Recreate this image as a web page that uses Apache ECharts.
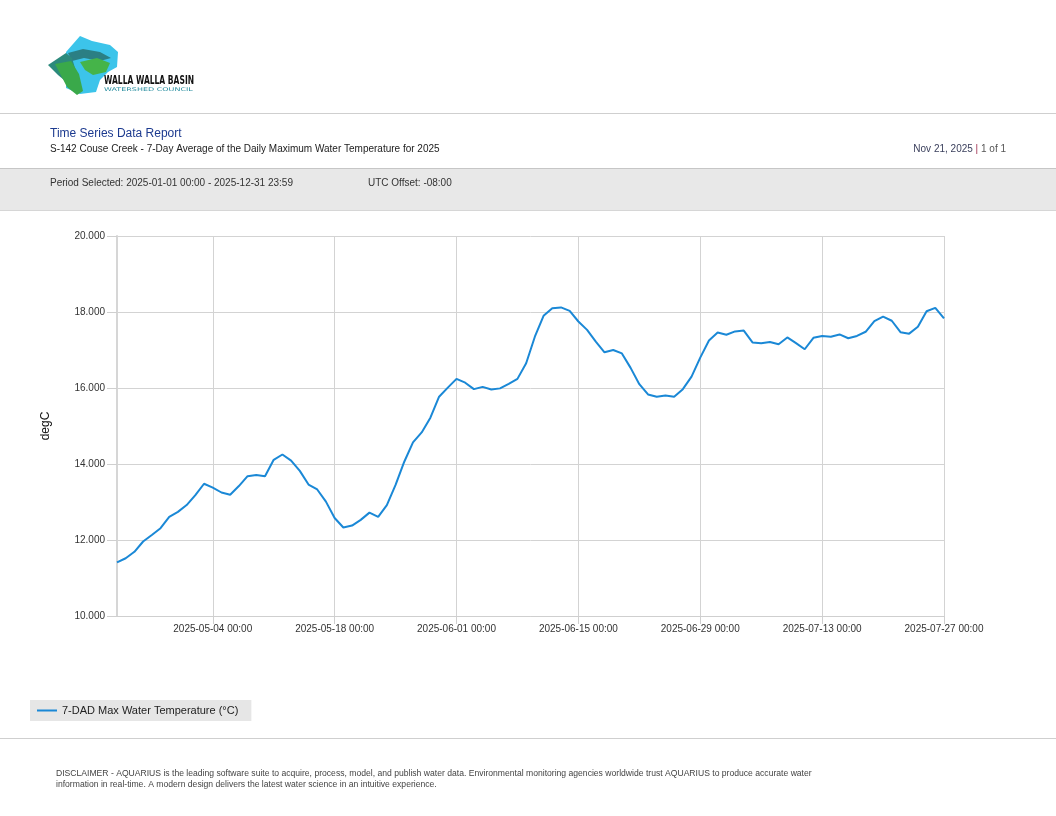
<!DOCTYPE html>
<html>
<head>
<meta charset="utf-8">
<script src="https://cdn.jsdelivr.net/npm/echarts@6/dist/echarts.min.js"></script>
<style>
html,body{margin:0;padding:0;background:#fff;}
#chart{width:1056px;height:816px;}
</style>
</head>
<body>
<div id="chart"></div>
<script>
// ---- Data ----
const startDate = '2025-04-23';
const tempValues = [
  11.41, 11.52, 11.69, 11.96, 12.13, 12.31, 12.61, 12.74, 12.92, 13.18,
  13.48, 13.38, 13.25, 13.19, 13.42, 13.68, 13.71, 13.68, 14.11, 14.25,
  14.09, 13.82, 13.46, 13.33, 13.01, 12.58, 12.33, 12.38, 12.53, 12.72,
  12.61, 12.92, 13.45, 14.06, 14.57, 14.83, 15.22, 15.77, 16.01, 16.24,
  16.14, 15.97, 16.03, 15.96, 15.99, 16.11, 16.24, 16.65, 17.35, 17.90,
  18.10, 18.12, 18.03, 17.75, 17.53, 17.22, 16.94, 17.00, 16.91, 16.53,
  16.10, 15.83, 15.77, 15.80, 15.77, 15.97, 16.30, 16.80, 17.25, 17.46,
  17.40, 17.49, 17.51, 17.20, 17.18, 17.21, 17.15, 17.33, 17.18, 17.02,
  17.32, 17.37, 17.35, 17.41, 17.31, 17.37, 17.48, 17.76, 17.88, 17.77,
  17.47, 17.43, 17.61, 18.02, 18.11, 17.83
];
const tickDates = ['2025-05-04','2025-05-18','2025-06-01','2025-06-15','2025-06-29','2025-07-13','2025-07-27'];
const yTicks = [10, 12, 14, 16, 18, 20];
const seriesName = '7-DAD Max Water Temperature (°C)';

// categories (dates)
const categories = [];
(function(){
  const d0 = new Date(startDate + 'T00:00:00Z');
  for (let i = 0; i < tempValues.length; i++) {
    const d = new Date(d0.getTime() + i * 86400000);
    categories.push(d.toISOString().slice(0, 10));
  }
})();
const isTick = (idx) => tickDates.indexOf(categories[idx]) >= 0;

const FONT = '"Liberation Sans", Arial, sans-serif';

const chart = echarts.init(document.getElementById('chart'), null, {renderer: 'canvas'});
chart.setOption({
  backgroundColor: '#ffffff',
  animation: false,
  textStyle: {fontFamily: FONT},
  grid: {left: 117, right: 112, top: 236, bottom: 200, containLabel: false},
  xAxis: {
    type: 'category',
    data: categories,
    boundaryGap: false,
    axisLine: {show: true, lineStyle: {color: '#cfcfcf', width: 1}},
    axisTick: {show: true, length: 8, interval: (i) => isTick(i), lineStyle: {color: '#cfcfcf'}},
    axisLabel: {
      interval: (i) => isTick(i),
      formatter: (v) => v + ' 00:00',
      color: '#333', fontSize: 10, fontFamily: FONT, margin: 8
    },
    splitLine: {show: true, interval: (i) => isTick(i), lineStyle: {color: '#d3d3d3', width: 1}}
  },
  yAxis: {
    type: 'value',
    min: yTicks[0], max: yTicks[yTicks.length - 1], interval: 2,
    name: 'degC',
    nameLocation: 'middle',
    nameGap: 65,
    nameRotate: 90,
    nameTextStyle: {color: '#111', fontSize: 12, fontFamily: FONT},
    axisLine: {show: true, lineStyle: {color: '#d6d6d6', width: 2}},
    axisTick: {show: true, length: 10, lineStyle: {color: '#cfcfcf'}},
    axisLabel: {formatter: (v) => v.toFixed(3), color: '#333', fontSize: 10, fontFamily: FONT, margin: 12},
    splitLine: {show: true, lineStyle: {color: '#d3d3d3', width: 1}}
  },
  legend: {
    show: true,
    left: 30, top: 700,
    orient: 'horizontal',
    backgroundColor: '#e6e6e6',
    padding: [5, 13, 5, 7],
    itemWidth: 20, itemHeight: 10,
    itemGap: 6,
    textStyle: {color: '#222', fontSize: 11, fontFamily: FONT},
    data: [{name: seriesName, icon: 'path://M0,4L20,4L20,6L0,6Z'}]
  },
  series: [{
    name: seriesName,
    type: 'line',
    data: tempValues,
    symbol: 'none',
    smooth: false,
    lineStyle: {color: '#1a88d6', width: 2},
    itemStyle: {color: '#1a88d6'}
  }],
  graphic: [
    // logo shapes
    {type: 'polygon', shape: {points: [[66,52],[80,36],[92,41],[110,45],[118,52],[117,67],[108,72],[100,80],[96,92],[80,94],[66,88]]}, style: {fill: '#3cc4ea'}},
    {type: 'polygon', shape: {points: [[68,53],[83,49],[100,52],[111,58],[100,61],[84,58],[72,61]]}, style: {fill: '#2b7f84'}},
    {type: 'polygon', shape: {points: [[80,62],[97,58],[110,63],[106,72],[93,75],[85,70]]}, style: {fill: '#45b449'}},
    {type: 'polygon', shape: {points: [[48,65],[66,53],[72,58],[78,78],[80,85],[70,85],[58,75]]}, style: {fill: '#2c8a7c'}},
    {type: 'polygon', shape: {points: [[55,64],[71,61],[79,74],[83,91],[77,95],[67,87]]}, style: {fill: '#3aa94a'}},
    {type: 'text', x: 104, y: 81, scaleX: 0.7, style: {text: 'WALLA WALLA BASIN', fill: '#111', font: 'bold 12px "DejaVu Sans Condensed", sans-serif', verticalAlign: 'middle', align: 'left'}},
    {type: 'text', x: 104, y: 89.5, scaleX: 1.6, style: {text: 'WATERSHED COUNCIL', fill: '#2a8fa0', font: '5px "DejaVu Sans", sans-serif', verticalAlign: 'middle', align: 'left'}},
    // header separators
    {type: 'rect', shape: {x: 0, y: 113, width: 1056, height: 1}, style: {fill: '#cfcfcf'}},
    {type: 'text', x: 50, y: 134, style: {text: 'Time Series Data Report', fill: '#1c3a8f', font: '12px ' + FONT, verticalAlign: 'middle'}},
    {type: 'text', x: 50, y: 149, style: {text: 'S-142 Couse Creek - 7-Day Average of the Daily Maximum Water Temperature for 2025', fill: '#222', font: '10px ' + FONT, verticalAlign: 'middle'}},
    {type: 'text', x: 1006, y: 149, style: {
      text: '{a|Nov 21, 2025 }{b||}{c| 1 of 1}', align: 'right', verticalAlign: 'middle',
      rich: {
        a: {fill: '#3a3f5c', font: '10px ' + FONT},
        b: {fill: '#a03050', font: '10px ' + FONT},
        c: {fill: '#555', font: '10px ' + FONT}
      }
    }},
    {type: 'rect', shape: {x: 0, y: 168, width: 1056, height: 42}, style: {fill: '#e8e8e8'}},
    {type: 'rect', shape: {x: 0, y: 168, width: 1056, height: 1}, style: {fill: '#c6c6c6'}},
    {type: 'rect', shape: {x: 0, y: 210, width: 1056, height: 1}, style: {fill: '#d6d6d6'}},
    {type: 'text', x: 50, y: 183, style: {text: 'Period Selected: 2025-01-01 00:00 - 2025-12-31 23:59', fill: '#333', font: '10px ' + FONT, verticalAlign: 'middle'}},
    {type: 'text', x: 368, y: 183, style: {text: 'UTC Offset: -08:00', fill: '#333', font: '10px ' + FONT, verticalAlign: 'middle'}},
    // footer
    {type: 'rect', shape: {x: 0, y: 738, width: 1056, height: 1}, style: {fill: '#cfcfcf'}},
    {type: 'text', x: 56, y: 774, style: {text: 'DISCLAIMER - AQUARIUS is the leading software suite to acquire, process, model, and publish water data. Environmental monitoring agencies worldwide trust AQUARIUS to produce accurate water', fill: '#444', font: '8.6px ' + FONT, verticalAlign: 'middle'}},
    {type: 'text', x: 56, y: 785, style: {text: 'information in real-time. A modern design delivers the latest water science in an intuitive experience.', fill: '#444', font: '8.6px ' + FONT, verticalAlign: 'middle'}}
  ]
});
</script>
</body>
</html>
